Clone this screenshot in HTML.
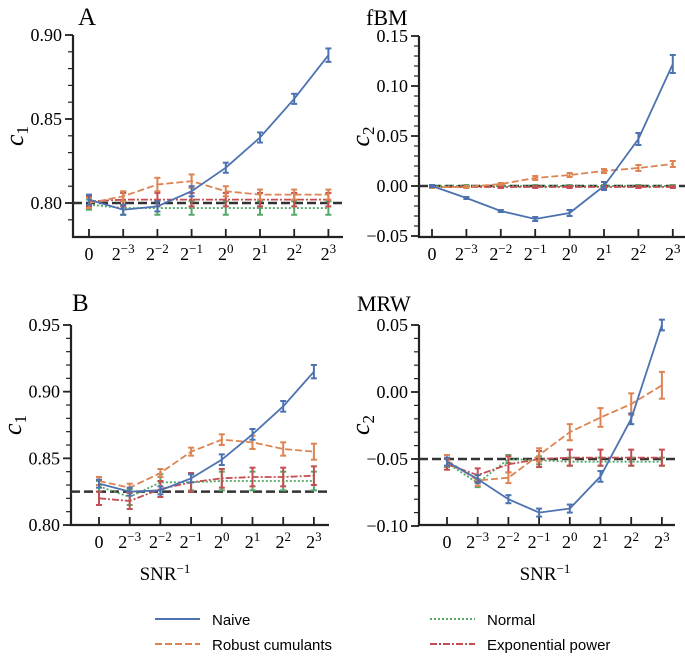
<!DOCTYPE html>
<html><head><meta charset="utf-8"><style>
html,body{margin:0;padding:0;background:#fff;}
svg{display:block;font-family:"Liberation Serif",serif;}
</style></head><body>
<svg id="fig" width="685" height="656" viewBox="0 0 685 656" xmlns="http://www.w3.org/2000/svg">
<text x="78" y="25" font-size="25">A</text>
<text x="366" y="25" font-size="22">fBM</text>
<text x="72" y="311" font-size="25">B</text>
<text x="357" y="311" font-size="22">MRW</text>
<text x="165" y="580" font-size="19" text-anchor="middle">SNR<tspan dy="-7" font-size="13">−1</tspan></text>
<text x="545" y="580" font-size="19" text-anchor="middle">SNR<tspan dy="-7" font-size="13">−1</tspan></text>
<g>
<line x1="155" y1="619" x2="200" y2="619" stroke="#4c72b0" stroke-width="2"/>
<text x="212" y="625" font-family="Liberation Sans, sans-serif" font-size="15">Naive</text>
<line x1="155" y1="644" x2="200" y2="644" stroke="#dd8452" stroke-width="2" stroke-dasharray="7,3"/>
<text x="212" y="650" font-family="Liberation Sans, sans-serif" font-size="15">Robust cumulants</text>
<line x1="430" y1="619" x2="475" y2="619" stroke="#55a868" stroke-width="2" stroke-dasharray="2,2"/>
<text x="487" y="625" font-family="Liberation Sans, sans-serif" font-size="15">Normal</text>
<line x1="430" y1="644" x2="475" y2="644" stroke="#c44e52" stroke-width="2" stroke-dasharray="7,2,2,2"/>
<text x="487" y="650" font-family="Liberation Sans, sans-serif" font-size="15">Exponential power</text>
</g>
</svg>
<script>
const xCats = ["0","2^-3","2^-2","2^-1","2^0","2^1","2^2","2^3"];
// Panel A (fBM c1)
const aNaive=[0.802,0.796,0.798,0.807,0.821,0.839,0.862,0.888];
const aNaiveErr=[0.003,0.003,0.003,0.003,0.003,0.003,0.003,0.004];
const aRobust=[0.800,0.804,0.811,0.813,0.807,0.805,0.805,0.805];
const aRobustErr=[0.003,0.003,0.004,0.004,0.003,0.003,0.003,0.003];
const aNormal=[0.799,0.797,0.797,0.797,0.797,0.797,0.797,0.797];
const aNormalErr=[0.003,0.004,0.004,0.004,0.004,0.004,0.004,0.004];
const aExp=[0.801,0.802,0.802,0.802,0.802,0.802,0.802,0.802];
const aExpErr=[0.003,0.004,0.004,0.004,0.004,0.004,0.004,0.004];
// fBM c2
const fNaive=[0.000,-0.012,-0.025,-0.033,-0.027,0.000,0.047,0.122];
const fNaiveErr=[0.001,0.001,0.001,0.002,0.003,0.004,0.006,0.009];
const fRobust=[-0.001,-0.001,0.002,0.008,0.011,0.015,0.018,0.022];
const fRobustErr=[0.001,0.001,0.001,0.002,0.002,0.002,0.003,0.003];
const fNormal=[0,0,0,0,0,0,0,0];
const fNormalErr=[0.001,0.001,0.001,0.001,0.001,0.001,0.001,0.001];
const fExp=[-0.001,-0.001,-0.001,-0.001,-0.001,-0.001,-0.001,-0.001];
const fExpErr=[0.001,0.001,0.001,0.001,0.001,0.001,0.001,0.001];
// Panel B (MRW c1)
const bNaive=[0.831,0.825,0.826,0.835,0.849,0.868,0.889,0.915];
const bNaiveErr=[0.003,0.003,0.003,0.003,0.004,0.004,0.004,0.005];
const bRobust=[0.833,0.828,0.839,0.855,0.864,0.862,0.857,0.855];
const bRobustErr=[0.003,0.003,0.003,0.003,0.004,0.005,0.005,0.006];
const bNormal=[0.829,0.821,0.832,0.832,0.833,0.833,0.833,0.833];
const bNormalErr=[0.004,0.006,0.006,0.006,0.007,0.007,0.007,0.007];
const bExp=[0.820,0.818,0.827,0.832,0.835,0.836,0.836,0.837];
const bExpErr=[0.005,0.006,0.006,0.007,0.007,0.007,0.007,0.007];
// MRW c2
const mNaive=[-0.052,-0.065,-0.080,-0.090,-0.087,-0.063,-0.020,0.050];
const mNaiveErr=[0.003,0.003,0.003,0.003,0.003,0.004,0.004,0.004];
const mRobust=[-0.051,-0.066,-0.064,-0.047,-0.030,-0.019,-0.009,0.005];
const mRobustErr=[0.004,0.004,0.004,0.005,0.006,0.007,0.008,0.010];
const mNormal=[-0.053,-0.068,-0.050,-0.051,-0.052,-0.052,-0.052,-0.052];
const mNormalErr=[0.003,0.003,0.003,0.003,0.003,0.003,0.003,0.003];
const mExp=[-0.054,-0.062,-0.054,-0.050,-0.049,-0.049,-0.049,-0.049];
const mExpErr=[0.004,0.005,0.006,0.006,0.006,0.006,0.006,0.006];
const aTicks=[0.80,0.85,0.90], fTicks=[-0.05,0.00,0.05,0.10,0.15], bTicks=[0.80,0.85,0.90,0.95], mTicks=[-0.10,-0.05,0.00,0.05];
const aTrue=0.80,fTrue=0.0,bTrue=0.825,mTrue=-0.05;

const NS="http://www.w3.org/2000/svg";
const svg=document.getElementById('fig');
function el(tag,attrs,parent){const e=document.createElementNS(NS,tag);for(const k in attrs)e.setAttribute(k,attrs[k]);(parent||svg).appendChild(e);return e;}
const COL={naive:"#4c72b0",robust:"#dd8452",normal:"#55a868",exp:"#c44e52"};
const DASH={naive:"",robust:"7,3",normal:"2,2",exp:"7,2,2,2"};

function panel(cfg){
  const g=el('g',{});
  
  
  const y=v=>cfg.y0+(v-cfg.v0)*(cfg.y1-cfg.y0)/(cfg.v1-cfg.v0);
  const x=i=>cfg.xFirst+i*cfg.xStep;
  const ax=el('path',{d:`M${cfg.ax},${cfg.top} V${cfg.bottom} H${cfg.right}`,stroke:"#222",'stroke-width':2.2,fill:"none"},g);
  
  
  for(let v=cfg.minorStart;v<=cfg.minorEnd+1e-9;v+=0.01){
    el('line',{x1:cfg.ax-5,x2:cfg.ax,y1:y(v),y2:y(v),stroke:"#222",'stroke-width':1.2},g);
  }
  cfg.ticks.forEach(t=>{
    el('line',{x1:cfg.ax-8,x2:cfg.ax,y1:y(t),y2:y(t),stroke:"#222",'stroke-width':1.8},g);
    const tx=el('text',{x:cfg.ax-11,y:y(t)+6,'font-size':18,'text-anchor':'end'},g);
    tx.textContent=(t<0?"−":"")+Math.abs(t).toFixed(2);
    
    
  });
  xCats.forEach((c,i)=>{
    el('line',{x1:x(i),x2:x(i),y1:cfg.bottom,y2:cfg.bottom-8,stroke:"#222",'stroke-width':1.8},g);
    const tx=el('text',{x:x(i),y:cfg.bottom+23,'font-size':18,'text-anchor':'middle'},g);
    
    
    if(c==="0"){tx.textContent="0";}
    else{const p=c.split('^');tx.appendChild(document.createTextNode(p[0]));const s=el('tspan',{dy:-7,'font-size':13},tx);s.textContent=p[1].replace('-','−');}
  });
  const yl=el('text',{x:0,y:0,'font-size':26,'font-style':'italic',transform:`translate(${cfg.ax-50},${(cfg.top+cfg.bottom)/2}) rotate(-90)`,'text-anchor':'middle'},g);
  
  
  yl.appendChild(document.createTextNode('c'));
  const sb=el('tspan',{dy:5,'font-size':17,'font-style':'normal'},yl);sb.textContent=cfg.sub;
  const tl=el('line',{x1:cfg.ax,x2:cfg.right,y1:y(cfg.truth),y2:y(cfg.truth),stroke:"#333",'stroke-width':2.5,'stroke-dasharray':'9,4'},g);
  
  
  cfg.series.forEach(s=>{
    const sg=el('g',{},g);
    
    
    const c=COL[s.key];
    const pts=s.vals.map((v,i)=>x(i)+","+y(v)).join(" ");
    const attrs={points:pts,fill:"none",stroke:c,'stroke-width':1.8};
    if(DASH[s.key])attrs['stroke-dasharray']=DASH[s.key];
    el('polyline',attrs,sg);
    s.vals.forEach((v,i)=>{
      const e=s.err[i],xi=x(i),yt=y(v+e),yb=y(v-e);
      el('line',{x1:xi,x2:xi,y1:yt,y2:yb,stroke:c,'stroke-width':2},sg);
      el('line',{x1:xi-3,x2:xi+3,y1:yt,y2:yt,stroke:c,'stroke-width':2},sg);
      el('line',{x1:xi-3,x2:xi+3,y1:yb,y2:yb,stroke:c,'stroke-width':2},sg);
    });
  });
}
panel({name:'panel-a',ax:73,top:35,bottom:237,right:343,y0:203,v0:0.80,y1:35,v1:0.90,xFirst:89,xStep:34.2,ticks:aTicks,minorStart:0.79,minorEnd:0.90,sub:'1',truth:aTrue,
  series:[{key:'normal',vals:aNormal,err:aNormalErr},{key:'exp',vals:aExp,err:aExpErr},{key:'robust',vals:aRobust,err:aRobustErr},{key:'naive',vals:aNaive,err:aNaiveErr}]});
panel({name:'panel-fbm',ax:419,top:36,bottom:237,right:685,y0:186,v0:0.0,y1:36,v1:0.15,xFirst:432,xStep:34.4,ticks:fTicks,minorStart:-0.05,minorEnd:0.15,sub:'2',truth:fTrue,
  series:[{key:'normal',vals:fNormal,err:fNormalErr},{key:'exp',vals:fExp,err:fExpErr},{key:'robust',vals:fRobust,err:fRobustErr},{key:'naive',vals:fNaive,err:fNaiveErr}]});
panel({name:'panel-b',ax:71,top:325,bottom:525,right:329,y0:525,v0:0.80,y1:325,v1:0.95,xFirst:99,xStep:30.7,ticks:bTicks,minorStart:0.80,minorEnd:0.95,sub:'1',truth:bTrue,
  series:[{key:'normal',vals:bNormal,err:bNormalErr},{key:'exp',vals:bExp,err:bExpErr},{key:'robust',vals:bRobust,err:bRobustErr},{key:'naive',vals:bNaive,err:bNaiveErr}]});
panel({name:'panel-mrw',ax:419,top:325,bottom:525,right:675,y0:392,v0:0.0,y1:325,v1:0.05,xFirst:447,xStep:30.7,ticks:mTicks,minorStart:-0.10,minorEnd:0.05,sub:'2',truth:mTrue,
  series:[{key:'normal',vals:mNormal,err:mNormalErr},{key:'exp',vals:mExp,err:mExpErr},{key:'robust',vals:mRobust,err:mRobustErr},{key:'naive',vals:mNaive,err:mNaiveErr}]});
</script>
</body></html>
